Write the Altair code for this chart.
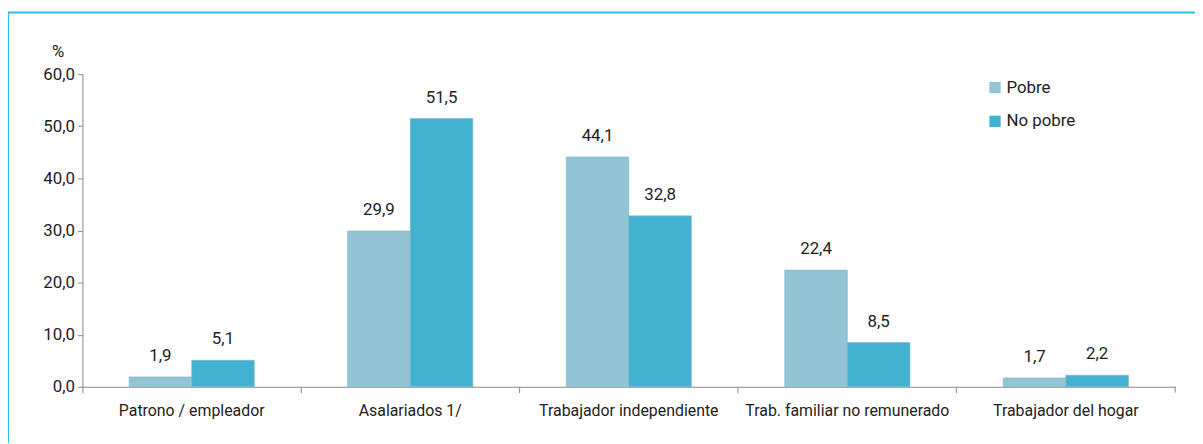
import altair as alt
import pandas as pd

categories = ["Patrono / empleador", "Asalariados 1/", "Trabajador independiente",
              "Trab. familiar no remunerado", "Trabajador del hogar"]
series = ["Pobre", "No pobre"]
pobre = [1.9, 29.9, 44.1, 22.4, 1.7]
no_pobre = [5.1, 51.5, 32.8, 8.5, 2.2]
y_ticks = [0, 10, 20, 30, 40, 50, 60]

rows = []
for c, a, b in zip(categories, pobre, no_pobre):
    rows.append({"cat": c, "serie": "Pobre", "val": a, "lab": f"{a:.1f}".replace(".", ",")})
    rows.append({"cat": c, "serie": "No pobre", "val": b, "lab": f"{b:.1f}".replace(".", ",")})
df = pd.DataFrame(rows)

FONT = "Roboto"
W, H = 1101, 315

x = alt.X("cat:N", sort=categories, title=None,
          scale=alt.Scale(paddingInner=0, paddingOuter=0),
          axis=alt.Axis(bandPosition=0, labelAngle=0, labelFontSize=16, labelFont=FONT,
                        labelColor="#222", labelPadding=10, tickSize=6, tickColor="#888",
                        domainColor="#888", labelBound=False, labelLimit=0))
xo = alt.XOffset("serie:N", sort=series, scale=alt.Scale(paddingOuter=0.746, paddingInner=0))
y = alt.Y("val:Q", scale=alt.Scale(domain=[0, 60], nice=False),
          axis=alt.Axis(values=y_ticks, labelExpr="replace(format(datum.value, '.1f'), '.', ',')",
                        grid=False, labelFontSize=17, labelFont=FONT, labelColor="#222",
                        tickSize=5, tickColor="#888", domainColor="#888", labelPadding=3,
                        title="%", titleAngle=0, titleFont=FONT, titleFontSize=17,
                        titleFontWeight="normal", titleColor="#222", titleX=-25, titleY=-14,
                        titleAlign="center"))
color = alt.Color("serie:N", sort=series,
                  scale=alt.Scale(domain=series, range=["#93c4d5", "#43b2d0"]),
                  legend=alt.Legend(title=None, orient="none", legendX=911, legendY=5,
                                    symbolType="square", symbolSize=130, symbolStrokeWidth=0,
                                    labelFontSize=17, labelFont=FONT, labelColor="#222",
                                    rowPadding=16, labelOffset=3))

base = alt.Chart(df)
bars = base.mark_bar(stroke="#7fb8c4", strokeWidth=1, strokeOpacity=0.6).encode(
    x=x, xOffset=xo, y=y, color=color)
labels = base.mark_text(baseline="bottom", dy=-12, fontSize=17, font=FONT, color="#222").encode(
    x=x, xOffset=xo, y=y, text="lab:N")

end_tick = alt.Chart(pd.DataFrame({"v": [0]})).mark_rule(color="#888").encode(
    x=alt.value(W), y=alt.value(H), y2=alt.value(H + 6))
border = alt.Chart(pd.DataFrame({"v": [0]})).mark_rect(
    fill=None, stroke="#2bbcef", strokeWidth=2, clip=False).encode(
    x=alt.value(-75), x2=alt.value(W + 60), y=alt.value(-62), y2=alt.value(H + 80))

chart = alt.layer(border, bars, labels, end_tick).properties(
    width=W, height=H,
    autosize=alt.AutoSizeParams(type="none"),
    padding={"left": 75, "top": 65, "right": 20, "bottom": 55},
).configure_view(stroke=None)

chart.save("out.html", embed_options={"renderer": "svg", "actions": False})
